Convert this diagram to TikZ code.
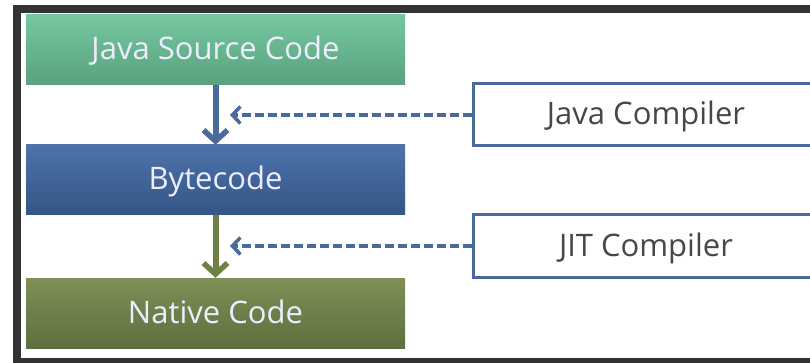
\documentclass[tikz,border=0pt]{standalone}
\usepackage{fontspec}
\setmainfont{Open Sans}
\usepackage{tikz}
\usetikzlibrary{arrows.meta}

\definecolor{srctop}{HTML}{75C7A1}
\definecolor{srcbot}{HTML}{59A27D}
\definecolor{bytetop}{HTML}{4D73AB}
\definecolor{bytebot}{HTML}{345585}
\definecolor{nattop}{HTML}{7E9056}
\definecolor{natbot}{HTML}{5D6F3D}
\definecolor{flowblue}{HTML}{4A6A9E}
\definecolor{flowolive}{HTML}{6D8147}
\definecolor{frame}{HTML}{333333}

\tikzset{
  codebox/.style={minimum width=379pt, minimum height=70pt, inner sep=0pt,
    text height=20pt, text depth=0pt,
    text=white!93!blue, font=\fontsize{31}{36}\selectfont},
  compbox/.style={draw=flowblue, line width=3pt, fill=white, minimum width=346pt,
    minimum height=62pt, inner sep=0pt, text height=20pt, text depth=0pt,
    text=black!72, font=\fontsize{31}{36}\selectfont},
  flow/.style={line width=6pt, -{Straight Barb[length=11pt,width=24pt,line width=5.5pt]}},
  feed/.style={flowblue, line width=3.5pt, dash pattern=on 9pt off 4pt,
    -{Straight Barb[length=8pt,width=17pt,line width=3.5pt]}}
}

\begin{document}
\begin{tikzpicture}[x=1pt, y=-1pt]
\clip (0,0) rectangle (810,363);
\fill [white] (0,0) rectangle (810,363);
\fill [frame] (13,5) rectangle (810,363);
\fill [white] (21,13) rectangle (810,358);

%% code boxes
\shade [top color=srctop, bottom color=srcbot] (26,15) rectangle (405,85);
\shade [top color=bytetop, bottom color=bytebot] (26,145) rectangle (405,215);
\shade [top color=nattop, bottom color=natbot] (26,278) rectangle (405,348);
\node [codebox] (src) at (215.5,50) {Java Source Code};
\node [codebox] (byte) at (215.5,180) {Bytecode};
\node [codebox] (native) at (215.5,313) {Native Code};

%% compilers
\node [compbox] (javac) at (646,115) {Java Compiler};
\node [compbox] (jit) at (646,246) {JIT Compiler};

\draw [flow, flowblue] (src.south) -- (byte.north);
\draw [flow, flowolive] (byte.south) -- (native.north);

\coordinate (javacin) at (230,115);
\coordinate (jitin) at (230,246);
\draw [feed] (javac.west) -- (javacin);
\draw [feed] (jit.west) -- (jitin);
\end{tikzpicture}
\end{document}
